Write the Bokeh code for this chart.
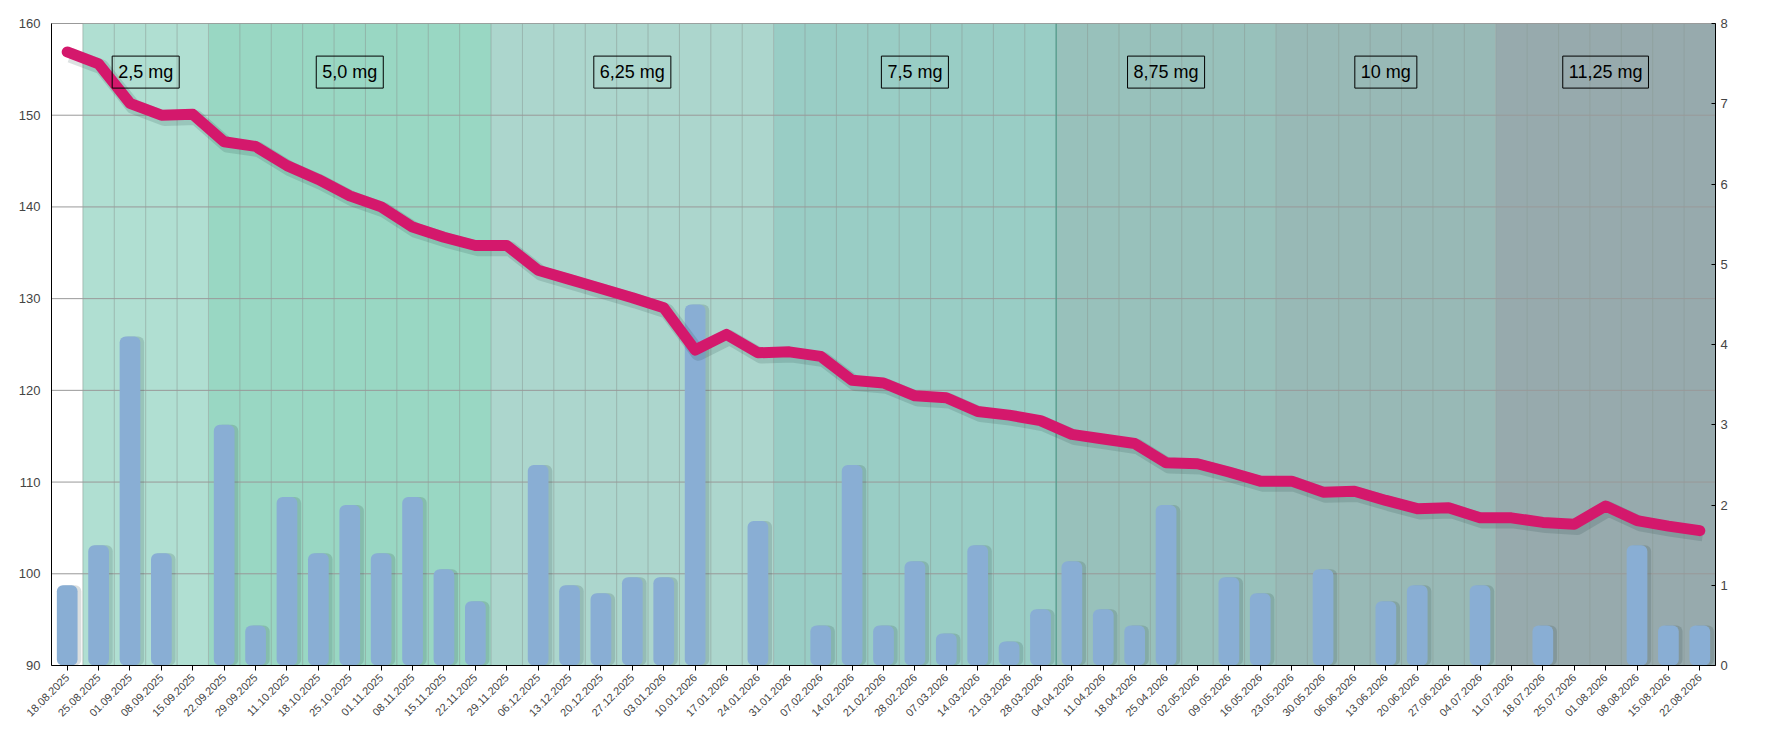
import math
from bokeh.plotting import figure
from bokeh.models import Range1d, LinearAxis, FixedTicker, Label, ColumnDataSource
from bokeh.embed import file_html
from bokeh.resources import INLINE

dates = ["18.08.2025","25.08.2025","01.09.2025","08.09.2025","15.09.2025","22.09.2025","29.09.2025",
         "11.10.2025","18.10.2025","25.10.2025","01.11.2025","08.11.2025","15.11.2025","22.11.2025",
         "29.11.2025","06.12.2025","13.12.2025","20.12.2025","27.12.2025","03.01.2026","10.01.2026",
         "17.01.2026","24.01.2026","31.01.2026","07.02.2026","14.02.2026","21.02.2026","28.02.2026",
         "07.03.2026","14.03.2026","21.03.2026","28.03.2026","04.04.2026","11.04.2026","18.04.2026",
         "25.04.2026","02.05.2026","09.05.2026","16.05.2026","23.05.2026","30.05.2026","06.06.2026",
         "13.06.2026","20.06.2026","27.06.2026","04.07.2026","11.07.2026","18.07.2026","25.07.2026",
         "01.08.2026","08.08.2026","15.08.2026","22.08.2026"]
weight = [156.9,155.6,151.3,150.0,150.1,147.1,146.6,144.5,143.0,141.2,140.0,137.8,136.7,135.8,
          135.8,133.1,132.1,131.1,130.1,129.0,124.4,126.1,124.1,124.2,123.7,121.1,120.8,119.4,
          119.2,117.7,117.3,116.7,115.2,114.7,114.2,112.1,112.0,111.1,110.1,110.1,108.9,109.0,
          108.0,107.1,107.2,106.1,106.1,105.6,105.4,107.4,105.8,105.2,104.7]
loss = [1.0,1.5,4.1,1.4,0,3.0,0.5,2.1,1.4,2.0,1.4,2.1,1.2,0.8,0,2.5,1.0,0.9,1.1,1.1,4.5,0,1.8,0,
        0.5,2.5,0.5,1.3,0.4,1.5,0.3,0.7,1.3,0.7,0.5,2.0,0,1.1,0.9,0,1.2,0,0.8,1.0,0,1.0,0,0.5,0,0,
        1.5,0.5,0.5]
dose_labels = ["2,5 mg","5,0 mg","6,25 mg","7,5 mg","8,75 mg","10 mg","11,25 mg"]
dose_start = [1,5,14,23,32,39,46]
dose_end = [5,14,23,32,39,46,53]
dose_colors = ["#b0dfd2","#99d7c3","#acd6cd","#99cdc5","#98c1bb","#98b9b6","#97aaad"]
y_ticks = list(range(90, 161, 10))

n = len(dates)
xs = [i + 0.5 for i in range(n)]

p = figure(width=1749, height=723, output_backend="svg", toolbar_location=None,
           x_range=Range1d(0, n), y_range=Range1d(90, 160),
           min_border_left=51, min_border_right=34, min_border_top=23, min_border_bottom=10)
p.extra_y_ranges = {"r": Range1d(0, 8)}
p.outline_line_color = "#999999"
p.background_fill_color = "white"
p.xgrid.visible = False
p.ygrid.visible = False

p.quad(left=dose_start, right=dose_end, bottom=90, top=160, fill_color=dose_colors, line_color=None)

vx = list(range(n + 1))
p.segment(x0=vx, x1=vx, y0=90, y1=160, line_color="#8a9a96", line_alpha=0.55, line_width=1)
p.segment(x0=0, x1=n, y0=y_ticks, y1=y_ticks, line_color="#999999", line_width=1)
p.segment(x0=32, x1=32, y0=90, y1=160, line_color="#4f9c8c", line_width=1.2)

src = ColumnDataSource(dict(x=xs, loss=loss, w=weight, ws=[v - 0.35 for v in weight],
                            xsh=[v + 0.1 for v in xs]))
p.vbar(x="xsh", top="loss", width=0.7, source=src, y_range_name="r",
       fill_color="#1e3b3a", fill_alpha=0.16, line_color=None, border_radius=6)
p.vbar(x="x", top="loss", width=0.66, source=src, y_range_name="r",
       fill_color="#89aed4", line_color=None, border_radius=6)

p.line(x="xsh", y="ws", source=src, line_width=15, line_color="#1e3b3a", line_alpha=0.15, line_join="round")
p.line(x="x", y="w", source=src, line_width=11, line_color="#d4186c", line_join="round", line_cap="round")

for lab, s, e in zip(dose_labels, dose_start, dose_end):
    p.add_layout(Label(x=(s + e) / 2, y=154.7, text=lab, text_align="center", text_baseline="middle",
                       text_font="Liberation Sans", text_font_size="18px", text_color="black",
                       border_line_color="black", border_line_width=1, padding=6))

p.xaxis.ticker = FixedTicker(ticks=xs)
p.xaxis.major_label_overrides = {x: d for x, d in zip(xs, dates)}
p.xaxis.major_label_orientation = math.pi / 4
p.xaxis.major_label_text_font = "Liberation Sans"
p.xaxis.major_label_text_font_size = "11px"
p.xaxis.axis_line_color = "black"
p.xaxis.major_tick_line_color = "black"
p.xaxis.major_tick_out = 5
p.xaxis.major_tick_in = 0

p.yaxis.ticker = FixedTicker(ticks=y_ticks)
p.yaxis.major_label_text_font = "Liberation Sans"
p.yaxis.major_label_text_font_size = "13px"
p.yaxis.axis_line_color = "black"
p.yaxis.major_tick_line_color = None

ra = LinearAxis(y_range_name="r", ticker=FixedTicker(ticks=list(range(0, 9))))
ra.major_label_text_font = "Liberation Sans"
ra.major_label_text_font_size = "13px"
ra.axis_line_color = "black"
ra.major_tick_in = 4
ra.major_tick_out = 0
p.add_layout(ra, "right")

open("out.html", "w").write(file_html(p, INLINE))
